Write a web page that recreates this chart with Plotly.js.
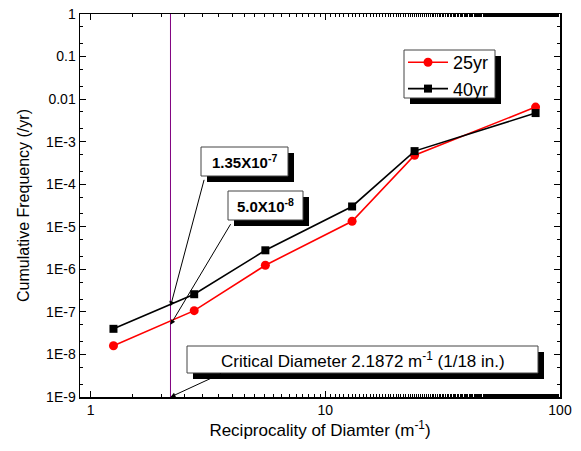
<!DOCTYPE html>
<html>
<head>
<meta charset="utf-8">
<script src="https://cdn.plot.ly/plotly-3.0.1.min.js"></script>
<style>html,body{margin:0;padding:0;background:#fff;}#chart{width:581px;height:451px;}</style>
</head>
<body>
<div id="chart"></div>
<script>
// Data
const recipDiameter = [1.25, 2.76, 5.55, 13.0, 24.0, 78.7];
const freq25yr = [1.6e-8, 1.07e-7, 1.25e-6, 1.35e-5, 4.8e-4, 6.5e-3];
const freq40yr = [4.0e-8, 2.6e-7, 2.8e-6, 3.0e-5, 6.0e-4, 4.7e-3];
const seriesNames = ["25yr", "40yr"];
const criticalX = 2.1872;
const markValues = [1.35e-7, 5.0e-8];
const yTickVals = [1, 0.1, 0.01, 1e-3, 1e-4, 1e-5, 1e-6, 1e-7, 1e-8, 1e-9];
const yTickText = ["1", "0.1", "0.01", "1E-3", "1E-4", "1E-5", "1E-6", "1E-7", "1E-8", "1E-9"];
const xTickVals = [1, 10, 100];
const xTickText = ["1", "10", "100"];
const xRange = [0.9, 100];
const yRange = [1e-9, 1];

const FONT = "Liberation Sans, Arial, sans-serif";
const W = 581, H = 451;
const M = {l: 80, r: 21, t: 14, b: 54};
const PW = W - M.l - M.r, PH = H - M.t - M.b;
const px = v => (v - M.l) / PW;          // pixel x -> paper x
const py = v => (H - M.b - v) / PH;      // pixel y -> paper y

const traces = [
  {x: recipDiameter, y: freq25yr, name: seriesNames[0], mode: "lines+markers",
   line: {color: "#ff0000", width: 1.6}, marker: {symbol: "circle", size: 9, color: "#ff0000"}},
  {x: recipDiameter, y: freq40yr, name: seriesNames[1], mode: "lines+markers",
   line: {color: "#000000", width: 1.6}, marker: {symbol: "square", size: 8, color: "#000000"}}
];

// decoration boxes in pixel coordinates [x0, y0, x1, y1]
const boxes = [
  [201, 147, 288, 176],
  [228, 191, 303, 220],
  [187, 346, 538, 373],
  [404, 50, 495, 98]
];
const SH = 6;
const shapes = [
  {type: "line", xref: "x", yref: "paper", x0: criticalX, x1: criticalX, y0: 0, y1: 1,
   line: {color: "#800080", width: 1}, layer: "below"}
];
boxes.forEach(b => {
  shapes.push({type: "rect", xref: "paper", yref: "paper", x0: px(b[0] + SH), x1: px(b[2] + SH), y0: py(b[3] + SH), y1: py(b[1] + SH),
    fillcolor: "#000", line: {width: 0}, layer: "above"});
  shapes.push({type: "rect", xref: "paper", yref: "paper", x0: px(b[0]), x1: px(b[2]), y0: py(b[3]), y1: py(b[1]),
    fillcolor: "#fff", line: {color: "#444", width: 1}, layer: "above"});
});

function arrow(xv, yv, ax, ay) {
  return {x: Math.log10(xv), y: Math.log10(yv), xref: "x", yref: "y", text: "", showarrow: true,
    arrowhead: 2, arrowsize: 1, arrowwidth: 1, arrowcolor: "#000", ax: ax, ay: ay, standoff: 0};
}
function label(text, b, size) {
  return {xref: "paper", yref: "paper", x: px((b[0] + b[2]) / 2), y: py((b[1] + b[3]) / 2),
    xanchor: "center", yanchor: "middle", showarrow: false, text: text,
    font: {family: FONT, size: size, color: "#000"}};
}

const annotations = [
  arrow(criticalX, markValues[0], 34, -128),
  arrow(criticalX, markValues[1], 61, -102),
  arrow(criticalX, yRange[0], 52, -24),
  label("<b>1.35X10<sup>-7</sup></b>", boxes[0], 15),
  label("<b>5.0X10<sup>-8</sup></b>", boxes[1], 15),
  label("Critical Diameter 2.1872 m<sup>-1</sup> (1/18 in.)", boxes[2], 17)
];

const layout = {
  width: W, height: H,
  margin: M,
  paper_bgcolor: "#fff", plot_bgcolor: "#fff",
  font: {family: FONT, size: 14, color: "#000"},
  showlegend: true,
  legend: {x: px(403), y: py(44), xanchor: "left", yanchor: "top", bgcolor: "rgba(0,0,0,0)", borderwidth: 0,
    font: {family: FONT, size: 18, color: "#000"}, tracegroupgap: 0, itemwidth: 40},
  xaxis: {type: "log", range: xRange.map(Math.log10), showgrid: false, zeroline: false, showline: true, linecolor: "#000", linewidth: 1.5,
    mirror: "ticks", ticks: "inside", ticklen: 6, tickcolor: "#000", tickvals: xTickVals, ticktext: xTickText,
    tickfont: {family: FONT, size: 14}, minor: {ticks: "inside", ticklen: 3, tickcolor: "#000", showgrid: false},
    title: {text: "Reciprocality of Diamter (m<sup>-1</sup>)", font: {family: FONT, size: 17}, standoff: 6}},
  yaxis: {type: "log", range: yRange.map(Math.log10), showgrid: false, zeroline: false, showline: true, linecolor: "#000", linewidth: 1.5,
    mirror: "ticks", ticks: "inside", ticklen: 6, tickcolor: "#000", tickvals: yTickVals, ticktext: yTickText,
    tickfont: {family: FONT, size: 14}, minor: {ticks: "inside", ticklen: 3, tickcolor: "#000", showgrid: false},
    title: {text: "Cumulative Frequency (/yr)", font: {family: FONT, size: 16}, standoff: 12}},
  shapes: shapes,
  annotations: annotations
};

Plotly.newPlot("chart", traces, layout, {displayModeBar: false, staticPlot: true});
</script>
</body>
</html>
